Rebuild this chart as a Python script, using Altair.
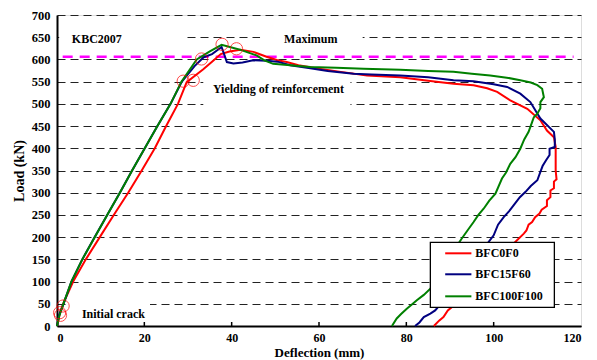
import altair as alt
import pandas as pd

# ---------------- data ----------------
red_x = [0, 0.7, 1.5, 3.7, 6.6, 9.8, 13.0, 16.3, 19.4, 22.4, 25.0, 27.7, 29.7, 33.5, 35.5, 37.5, 39.5, 42.0,
         45.0, 48.0, 50.5, 52.6, 55.3, 60.0, 65.0, 71.0, 78.6, 85.0, 90.8, 95.4, 98.5, 100.8, 103.8, 107.7,
         110.7, 112.2, 113.8, 114.2, 114.2, 114.4, 113.8, 113.8, 113.0, 113.0, 112.2, 112.2, 111.0, 110.5,
         109.5, 108.8, 108.0, 107.5, 106.9, 104.0, 101.0, 98.0, 95.0, 92.5, 91.2, 90.5, 89.5, 88.5, 87.5, 86.3]
red_y = [0, 30, 52, 100, 150, 200, 250, 300, 350, 400, 450, 500, 549, 578, 595, 612, 618, 622,
         617, 606, 598, 594, 587, 579, 572, 564, 560, 552, 545, 542, 535, 527, 508, 489,
         463, 440, 425, 403, 350, 330, 325, 310, 305, 290, 283, 270, 262, 253,
         245, 234, 228, 215, 208, 180, 150, 120, 92, 68, 60, 43, 35, 20, 12, 0]

blue_x = [0, 0.5, 1.5, 3.3, 5.8, 8.6, 11.5, 14.4, 17.2, 20.1, 23.0, 26.0, 28.6, 31.5, 33.6, 35.5, 37.7,
          38.9, 40.4, 42.5, 44.9, 48.0, 50.5, 53.4, 58.0, 62.0, 67.9, 72.0, 78.6, 85.0, 90.8, 95.4, 100.0,
          103.1, 106.1, 108.4, 110.7, 113.8, 114.0, 114.0, 112.8, 112.8, 112.0, 111.2, 110.7, 110.0,
          108.5, 107.3, 106.0, 104.6, 103.5, 102.3, 101.0, 100.0, 97.0, 94.0, 91.0, 88.5, 87.5, 86.6,
          85.5, 84.0, 83.0, 82.0]
blue_y = [0, 25, 50, 100, 150, 200, 250, 300, 350, 400, 450, 500, 550, 585, 605, 612, 628,
          594, 591, 593, 598, 597, 595, 587, 580, 574, 568, 566, 564, 560, 553, 551, 544,
          538, 523, 504, 467, 437, 420, 403, 399, 385, 373, 360, 347, 328,
          315, 302, 290, 272, 258, 245, 228, 204, 165, 125, 88, 60, 45, 35,
          28, 20, 8, 0]

green_x = [0, 0.5, 1.5, 3.3, 5.8, 8.65, 11.5, 14.4, 17.2, 20.1, 23.0, 26.0, 28.5, 32.0, 35.0, 37.7, 40.0,
           41.9, 45.7, 47.5, 49.5, 53.4, 58.0, 64.0, 70.2, 78.6, 85.0, 90.8, 95.0, 99.2, 103.0, 106.1,
           108.5, 110.0, 111.1, 111.5, 110.7, 110.7, 110.0, 109.2, 108.8, 108.0, 107.0, 106.1, 105.0,
           103.8, 102.8, 101.9, 100.4, 99.0, 97.7, 96.5, 95.4, 94.0, 92.7, 90.5, 88.5, 86.5, 85.5, 84.0,
           82.4, 81.2, 80.1, 78.8, 77.8, 76.7]
green_y = [0, 22, 51, 100, 150, 200, 250, 300, 350, 400, 450, 500, 550, 600, 618, 633, 627,
           622, 609, 598, 590, 587, 583, 581, 579, 577, 574, 572, 568, 564, 559, 553,
           548, 542, 534, 515, 504, 490, 478, 470, 459, 437, 420, 399, 380,
           365, 345, 332, 298, 282, 264, 250, 234, 215, 197, 165, 130, 100, 84, 70,
           58, 48, 39, 27, 17, 0]

series_names = ["BFC0F0", "BFC15F60", "BFC100F100"]
series_colors = ["#FF0000", "#000080", "#008000"]

circle_x = [28.9, 31.2, 33.1, 37.8, 41.1, 1.4, 0.6, 0.8]
circle_y = [551, 553, 601, 634, 624, 45, 30, 24]

kbc_value = 606
x_tick_values = [0, 20, 40, 60, 80, 100, 120]
y_tick_values = [0, 50, 100, 150, 200, 250, 300, 350, 400, 450, 500, 550, 600, 650, 700]

labels_text = ["KBC2007", "Maximum", "Yielding of reinforcement", "Initial crack"]
labels_x = [3.4, 52.0, 35.7, 5.7]
labels_y = [647, 647, 533, 28]

# white boxes behind the annotation texts (hide grid lines there)
box_x1 = [0.5, 46.5, 33.5, 2.8]
box_x2 = [28.9, 70.0, 67.2, 21.3]
box_y1 = [630, 630, 490, 10]
box_y2 = [668, 668, 562, 62]

# legend box (data coordinates) and entries
legend_box = {"x": 85.5, "x2": 113.9, "y": 42, "y2": 188}
legend_row_y = [163.6, 116.4, 66.8]
legend_line_x = [88.9, 94.9]
legend_text_x = 95.8

# ---------------- frames ----------------
rows = []
for name, xs, ys in [("BFC0F0", red_x, red_y), ("BFC15F60", blue_x, blue_y), ("BFC100F100", green_x, green_y)]:
    for i, (a, b) in enumerate(zip(xs, ys)):
        rows.append({"series": name, "i": i, "x": a, "y": b})
curves = pd.DataFrame(rows)
circles = pd.DataFrame({"x": circle_x, "y": circle_y})
labels = pd.DataFrame({"t": labels_text, "x": labels_x, "y": labels_y})
boxes = pd.DataFrame({"x": box_x1, "x2": box_x2, "y": box_y1, "y2": box_y2})
kbc = pd.DataFrame({"x": [1.3], "x2": [118.3], "y": [kbc_value]})
inner_ticks = pd.DataFrame({"x": [20, 40, 60, 80, 100], "y": [0] * 5, "y2": [9] * 5})
leg_box = pd.DataFrame([legend_box])
leg_rows = pd.DataFrame({"series": series_names, "y": legend_row_y,
                         "x": [legend_line_x[0]] * 3, "x2": [legend_line_x[1]] * 3,
                         "tx": [legend_text_x] * 3})

FONT = "Liberation Serif"
xscale = alt.Scale(domain=[0, 120], nice=False)
yscale = alt.Scale(domain=[0, 700], nice=False)
cscale = alt.Scale(domain=series_names, range=series_colors)

x_axis = alt.Axis(values=x_tick_values, title="Deflection (mm)", grid=False, ticks=False,
                  labelPadding=6, labelOverlap=False, labelFont=FONT, labelFontWeight="bold",
                  labelFontSize=12, labelColor="#000", titleFont=FONT, titleFontWeight="bold",
                  titleFontSize=13, titleColor="#000", titleY=30, titleBaseline="alphabetic",
                  domainColor="#000", domainWidth=2)
y_axis = alt.Axis(values=y_tick_values, title="Load (kN)", grid=True, gridDash=[8, 5],
                  gridColor="#222", gridWidth=1.2, ticks=False, labelPadding=7, labelOverlap=False,
                  labelFont=FONT, labelFontWeight="bold", labelFontSize=12.5, labelColor="#000",
                  titleFont=FONT, titleFontWeight="bold", titleFontSize=14, titleColor="#000",
                  titlePadding=5, domainColor="#000", domainWidth=2)


def X(field):
    return alt.X(field, scale=xscale, axis=x_axis)


def Y(field):
    return alt.Y(field, scale=yscale, axis=y_axis)


white = alt.Chart(boxes).mark_rect(color="white").encode(
    x=X("x:Q"), x2="x2:Q", y=Y("y:Q"), y2="y2:Q")

ticks = alt.Chart(inner_ticks).mark_rule(color="#000", strokeWidth=1.5).encode(
    x=X("x:Q"), y=Y("y:Q"), y2="y2:Q")

kbc_line = alt.Chart(kbc).mark_rule(color="#FF00FF", strokeWidth=2.5, strokeDash=[10, 7]).encode(
    x=X("x:Q"), x2="x2:Q", y=Y("y:Q"))

lines = alt.Chart(curves).mark_line(strokeWidth=2).encode(
    x=X("x:Q"), y=Y("y:Q"),
    color=alt.Color("series:N", scale=cscale, legend=None),
    detail="series:N",
    order=alt.Order("i:Q"))

circ = alt.Chart(circles).mark_point(shape="circle", filled=False, color="#FF0000", size=150,
                                     strokeWidth=1).encode(x=X("x:Q"), y=Y("y:Q"))

txt = alt.Chart(labels).mark_text(align="left", baseline="middle", font=FONT, fontWeight="bold",
                                  fontSize=12, color="#000").encode(
    x=X("x:Q"), y=Y("y:Q"), text="t:N")

leg_rect = alt.Chart(leg_box).mark_rect(fill="white", stroke="#000", strokeWidth=1.3).encode(
    x=X("x:Q"), x2="x2:Q", y=Y("y:Q"), y2="y2:Q")

leg_lines = alt.Chart(leg_rows).mark_rule(strokeWidth=2).encode(
    x=X("x:Q"), x2="x2:Q", y=Y("y:Q"),
    color=alt.Color("series:N", scale=cscale, legend=None))

leg_text = alt.Chart(leg_rows).mark_text(align="left", baseline="middle", font=FONT,
                                         fontWeight="bold", fontSize=12, color="#000").encode(
    x=X("tx:Q"), y=Y("y:Q"), text="series:N")

chart = alt.layer(white, ticks, kbc_line, lines, circ, txt, leg_rect, leg_lines, leg_text).properties(
    width=524, height=311,
    autosize=alt.AutoSizeParams(type="none"),
    padding={"left": 57, "top": 15, "right": 16, "bottom": 34},
).configure_view(stroke="#000", strokeWidth=2).configure(background="white")

chart.save("out.html", embed_options={"renderer": "svg", "actions": False})
